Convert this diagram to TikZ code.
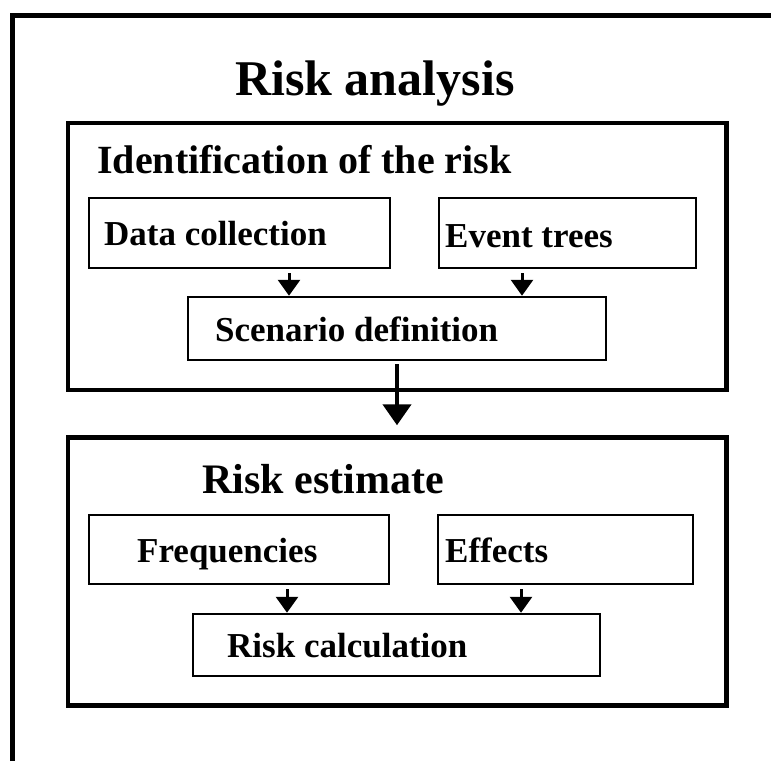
\documentclass[tikz,border=0pt]{standalone}
\usepackage{fontspec}
\setmainfont{Liberation Serif}
\usetikzlibrary{arrows.meta}
\begin{document}
\begin{tikzpicture}[x=1pt,y=-1pt,
  frame/.style={line width=5pt,line join=miter},
  bigbox/.style={draw,line width=4.5pt,rectangle,inner sep=0pt},
  smallbox/.style={draw,line width=2.5pt,rectangle,inner sep=0pt},
  lbl/.style={anchor=base west,inner sep=0pt,font=\bfseries\fontsize{35}{40}\selectfont},
  smallarr/.style={line width=3pt,-{Triangle[width=22pt,length=16pt]}},
  bigarr/.style={line width=4.5pt,-{Triangle[width=28pt,length=21pt]}}]
\useasboundingbox (0,0) rectangle (771,761);
% outer frame (left and top sides)
\coordinate (fbl) at (12.5,761);
\coordinate (ftl) at (12.5,15.5);
\coordinate (ftr) at (771,15.5);
\draw[frame] (fbl) -- (ftl) -- (ftr);
% title
\node[lbl,font=\bfseries\fontsize{50}{60}\selectfont] (title) at (235,95) {Risk analysis};
% section boxes
\node[bigbox,minimum width=658.5pt,minimum height=267pt] (ident) at (397.25,256.5) {};
\node[bigbox,minimum width=658.5pt,minimum height=268pt] (est) at (397.25,571.5) {};
\node[lbl,font=\bfseries\fontsize{40}{46}\selectfont] (identlbl) at (97,173) {Identification of the risk};
\node[lbl,font=\bfseries\fontsize{42}{48}\selectfont] (estlbl) at (202,493) {Risk estimate};
% inner boxes
\node[smallbox,minimum width=301pt,minimum height=70pt] (dc) at (239.5,233) {};
\node[smallbox,minimum width=257pt,minimum height=70pt] (et) at (567.5,233) {};
\node[smallbox,minimum width=418pt,minimum height=63pt] (sd) at (397,328.5) {};
\node[smallbox,minimum width=300pt,minimum height=69pt] (fr) at (239,549.5) {};
\node[smallbox,minimum width=255pt,minimum height=69pt] (ef) at (565.5,549.5) {};
\node[smallbox,minimum width=407pt,minimum height=62pt] (rc) at (396.5,645) {};
\node[lbl] (dclbl) at (104,245) {Data collection};
\node[lbl] (etlbl) at (445,247) {Event trees};
\node[lbl] (sdlbl) at (215,341) {Scenario definition};
\node[lbl] (frlbl) at (137,562) {Frequencies};
\node[lbl] (eflbl) at (445,562) {Effects};
\node[lbl] (rclbl) at (227,657) {Risk calculation};
% arrows
\draw[smallarr] ([yshift=-4pt]dc.south -| 289,0) -- (sd.north -| 289,0);
\draw[smallarr] ([yshift=-4pt]et.south -| 522,0) -- (sd.north -| 522,0);
\draw[bigarr] ([yshift=-3pt]sd.south) -- ([yshift=10pt]est.north -| sd.south);
\draw[smallarr] ([yshift=-4pt]fr.south -| 287,0) -- (rc.north -| 287,0);
\draw[smallarr] ([yshift=-4pt]ef.south -| 521,0) -- (rc.north -| 521,0);
\end{tikzpicture}
\end{document}
